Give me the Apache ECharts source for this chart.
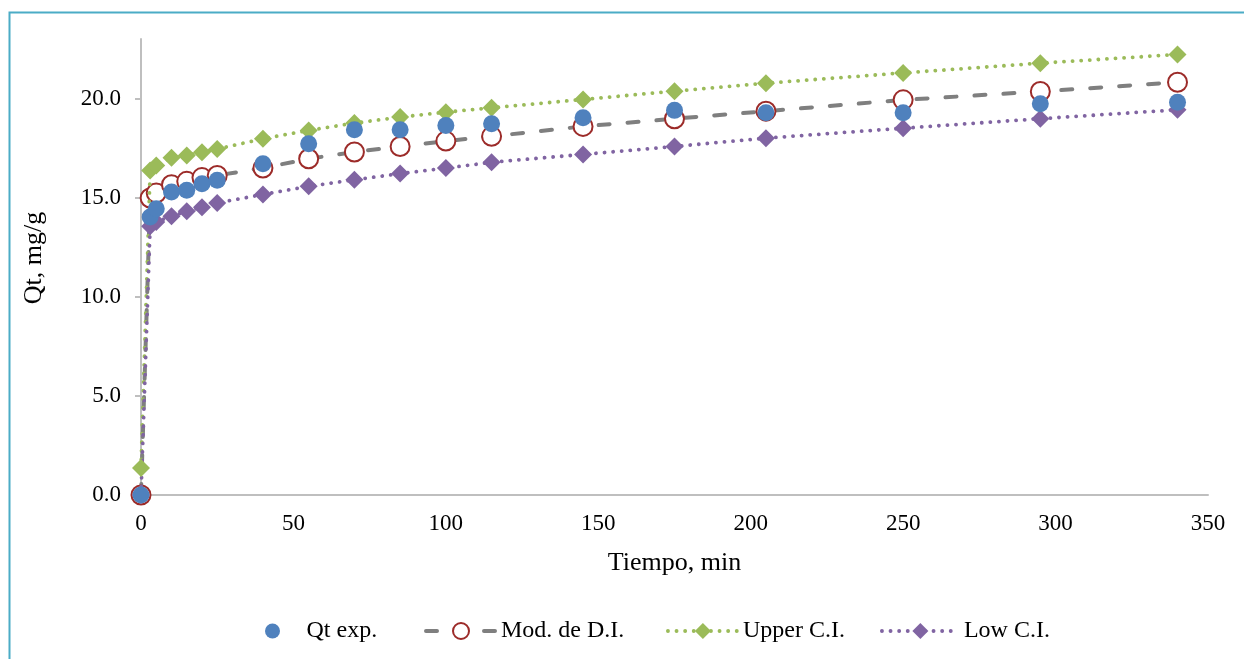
<!DOCTYPE html>
<html>
<head>
<meta charset="utf-8">
<title>Qt vs tiempo</title>
<script src="https://cdn.jsdelivr.net/npm/echarts@6/dist/echarts.min.js"></script>
<style>
  html, body { margin: 0; padding: 0; background: #fff; }
  #chart { width: 1244px; height: 659px; }
</style>
</head>
<body>
<div id="chart"></div>
<script>
/* Qt (mg/g) vs tiempo, modelo de difusion intraparticula con intervalos de confianza */
const chart = echarts.init(document.getElementById('chart'));
const FONT = '"Liberation Serif", "Times New Roman", serif';

// tiempo, min
const time = [0, 3, 5, 10, 15, 20, 25, 40, 55, 70, 85, 100, 115, 145, 175, 205, 250, 295, 340];
// Qt exp.
const qtExp = [0, 14.02, 14.44, 15.28, 15.37, 15.70, 15.87, 16.71, 17.72, 18.42, 18.42, 18.64, 18.72, 19.03, 19.40, 19.28, 19.28, 19.73, 19.81];
// Mod. de D.I.
const modDI = [0, 14.98, 15.23, 15.65, 15.82, 16.01, 16.12, 16.49, 16.96, 17.30, 17.58, 17.85, 18.09, 18.59, 18.98, 19.36, 19.93, 20.35, 20.82];
// Upper C.I.
const upperCI = [1.36, 16.37, 16.62, 17.01, 17.13, 17.29, 17.45, 17.97, 18.39, 18.76, 19.06, 19.31, 19.53, 19.95, 20.37, 20.77, 21.29, 21.78, 22.22];
// Low C.I.
const lowCI = [0, 13.55, 13.77, 14.06, 14.31, 14.52, 14.73, 15.16, 15.57, 15.90, 16.21, 16.49, 16.78, 17.18, 17.58, 18.00, 18.50, 18.98, 19.43];

const yTicks = [0, 5, 10, 15, 20];
const yMax = 23;
const names = ['Qt exp.', 'Mod. de D.I.', 'Upper C.I.', 'Low C.I.'];

const pairs = (ys) => time.map((t, i) => [t, ys[i]]);

// plot box
const G = { left: 141, right: 36, top: 39, bottom: 164 };
const plotH = 659 - G.top - G.bottom;
// tick-only grid covering 0..20 so no tick lands on the axis end (23)
const tickTop = G.top + plotH * (yMax - yTicks[yTicks.length - 1]) / yMax;

const legendText = { fontFamily: FONT, fontSize: 24, color: '#000' };
// one legend per entry so every icon/text sits where it does in the original
const legendAt = (name, left, w, h, line) => ({
  data: [name], left, top: 619, itemWidth: w, itemHeight: h,
  textStyle: legendText, selectedMode: false, padding: 0,
  lineStyle: line || {}
});

chart.setOption({
  animation: false,
  backgroundColor: '#fff',
  graphic: [{
    type: 'rect', left: 7, top: 10, z: -10,
    shape: { width: 1300, height: 700 },
    style: { fill: 'none', stroke: '#4bacc6', lineWidth: 2 }
  }],
  grid: [
    Object.assign({ containLabel: false }, G),
    { left: G.left, right: G.right, top: tickTop, bottom: G.bottom, containLabel: false }
  ],
  legend: [
    legendAt(names[0], 265, 58, 15),
    legendAt(names[1], 424, 70, 20, { width: 4 }),
    legendAt(names[2], 666, 70, 20, { width: 3.8 }),
    legendAt(names[3], 880, 77, 20, { width: 3.8 })
  ],
  xAxis: [{
    type: 'value', min: 0, max: 350, interval: 50,
    name: 'Tiempo, min', nameLocation: 'middle', nameGap: 55,
    nameTextStyle: { fontFamily: FONT, fontSize: 26, color: '#000' },
    axisLine: { lineStyle: { color: '#bfbfbf', width: 2 } },
    axisTick: { show: false },
    axisLabel: { fontFamily: FONT, fontSize: 23, color: '#000', margin: 17 },
    splitLine: { show: false }
  }, {
    gridIndex: 1, type: 'value', min: 0, max: 350, show: false
  }],
  yAxis: [{
    type: 'value', min: 0, max: yMax, interval: 5,
    name: 'Qt, mg/g', nameLocation: 'middle', nameGap: 94, nameRotate: 90,
    nameTextStyle: { fontFamily: FONT, fontSize: 26, color: '#000', padding: [0, 0, 0, 18] },
    axisLine: { show: true, lineStyle: { color: '#bfbfbf', width: 2 } },
    axisTick: { show: false },
    axisLabel: { fontFamily: FONT, fontSize: 23, color: '#000', margin: 20,
      customValues: yTicks, formatter: (v) => v.toFixed(1) },
    splitLine: { show: false }
  }, {
    gridIndex: 1, type: 'value', min: 0, max: yTicks[yTicks.length - 1], interval: 5,
    axisLine: { show: false },
    axisTick: { show: true, length: 6, lineStyle: { color: '#bfbfbf', width: 2 } },
    axisLabel: { show: false },
    splitLine: { show: false }
  }],
  series: [
    {
      name: names[1], type: 'line', data: pairs(modDI), z: 2,
      symbol: 'circle', symbolSize: 19,
      lineStyle: { color: '#7f7f7f', width: 4, type: [11, 18], cap: 'round' },
      itemStyle: { color: '#fff', borderColor: '#9c2b29', borderWidth: 2 }
    },
    {
      name: names[2], type: 'line', data: pairs(upperCI), z: 3,
      symbol: 'diamond', symbolSize: 18,
      lineStyle: { color: '#9bbb59', width: 3.8, type: [0.1, 8.5], cap: 'round' },
      itemStyle: { color: '#9bbb59' }
    },
    {
      name: names[3], type: 'line', data: pairs(lowCI), z: 3,
      symbol: 'diamond', symbolSize: 18,
      lineStyle: { color: '#8064a2', width: 3.8, type: [0.1, 8.5], cap: 'round' },
      itemStyle: { color: '#8064a2' }
    },
    {
      name: names[0], type: 'scatter', data: pairs(qtExp), z: 5,
      symbol: 'circle', symbolSize: 17,
      itemStyle: { color: '#4f81bd', opacity: 1 }
    }
  ]
});
window.addEventListener('resize', () => chart.resize());
</script>
</body>
</html>
